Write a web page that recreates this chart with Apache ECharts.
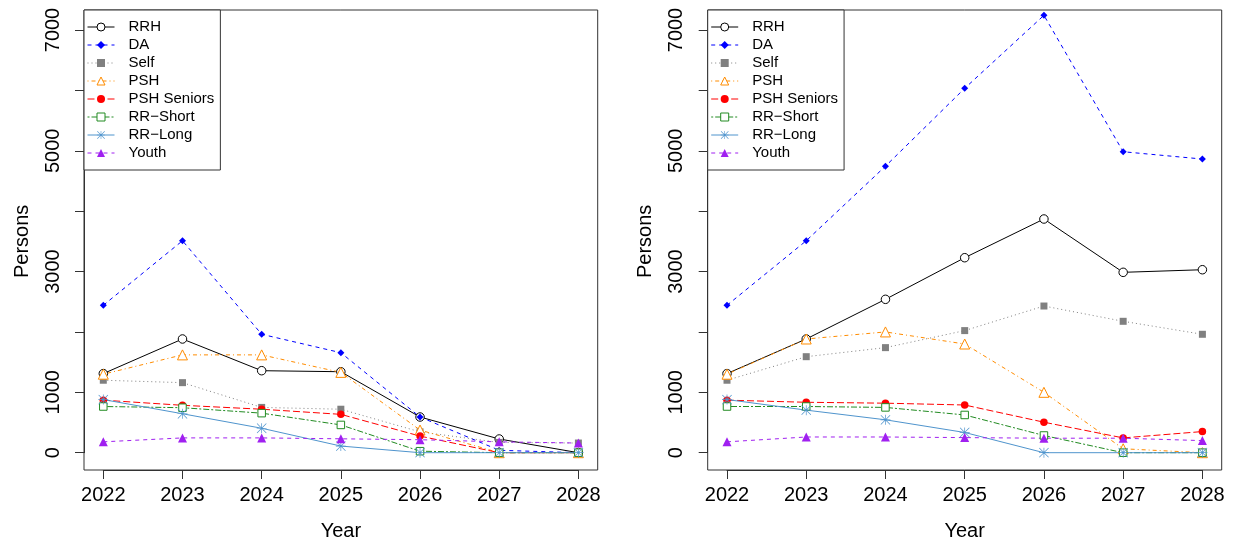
<!DOCTYPE html>
<html>
<head>
<meta charset="utf-8">
<script src="https://cdn.jsdelivr.net/npm/echarts@6/dist/echarts.min.js"></script>
<style>
  html, body { margin: 0; padding: 0; background: #fff; }
  #chart { width: 1234px; height: 543px; }
</style>
</head>
<body>
<div id="chart"></div>
<script>
// ---------- data ----------
const years = [2022, 2023, 2024, 2025, 2026, 2027, 2028];
const yTickLabels = [0, 1000, 3000, 5000, 7000];
const seriesNames = ['RRH', 'DA', 'Self', 'PSH', 'PSH Seniors', 'RR\u2212Short', 'RR\u2212Long', 'Youth'];

// left panel
const rrhLeft        = [1310, 1883, 1358, 1341, 591, 227, 0];
const daLeft         = [2441, 3510, 1961, 1656, 591, 40, 0];
const selfLeft       = [1200, 1160, 750, 720, 345, 170, 160];
const pshLeft        = [1300, 1620, 1620, 1330, 375, 0, 0];
const pshSeniorsLeft = [870, 785, 720, 635, 275, 0, 0];
const rrShortLeft    = [765, 745, 655, 460, 25, 0, 0];
const rrLongLeft     = [880, 645, 405, 110, 0, 0, 0];
const youthLeft      = [180, 245, 245, 230, 215, 180, 160];

// right panel
const rrhRight        = [1310, 1883, 2540, 3229, 3870, 2987, 3030];
const daRight         = [2441, 3510, 4745, 6034, 7243, 4984, 4863];
const selfRight       = [1200, 1590, 1740, 2022, 2429, 2176, 1961];
const pshRight        = [1300, 1883, 2000, 1800, 1000, 65, 0];
const pshSeniorsRight = [870, 835, 820, 790, 505, 245, 350];
const rrShortRight    = [765, 765, 750, 625, 285, 0, 0];
const rrLongRight     = [880, 705, 545, 335, 0, 0, 0];
const youthRight      = [180, 260, 260, 250, 240, 240, 200];

const panels = [
  [rrhLeft, daLeft, selfLeft, pshLeft, pshSeniorsLeft, rrShortLeft, rrLongLeft, youthLeft],
  [rrhRight, daRight, selfRight, pshRight, pshSeniorsRight, rrShortRight, rrLongRight, youthRight]
];

// ---------- styles ----------
const FONT = '"Liberation Sans", Arial, Helvetica, sans-serif';
const asterisk = 'path://M9.3 0h1.4v20h-1.4z M0 9.3h20v1.4h-20z M1.2 0.2L19.8 18.8L18.8 19.8L0.2 1.2Z M18.8 0.2L19.8 1.2L1.2 19.8L0.2 18.8Z';
// open = white-filled symbol with thin coloured outline
const styles = [
  { color: '#000000', dash: 'solid',       symbol: 'circle',   size: 8.5, open: true },
  { color: '#0000FF', dash: [4, 4],        symbol: 'diamond',  size: 7,   open: false },
  { color: '#808080', dash: [1, 3],        symbol: 'rect',     size: 7,   open: false },
  { color: '#FF8C00', dash: [1, 3, 4, 3],  symbol: 'triangle', size: 10,  open: true },
  { color: '#FF0000', dash: [7, 3],        symbol: 'circle',   size: 7.5, open: false },
  { color: '#228B22', dash: [2, 2, 6, 2],  symbol: 'rect',     size: 7.5, open: true },
  { color: '#4F94CD', dash: 'solid',       symbol: asterisk,   size: 10,  open: false },
  { color: '#A020F0', dash: [4, 4],        symbol: 'triangle', size: 9,   open: false }
];

// ---------- layout (pixels) ----------
const boxes = [
  { x: 84, y: 10, w: 513.7, h: 460 },
  { x: 707.7, y: 10, w: 514, h: 460 }
];
const PAD_X = 19.3;   // R's 4% axis extension, horizontally
const Y0 = 452.7;     // pixel of value 0
const Y7000 = 30;     // pixel of value 7000

const grids = boxes.map(b => ({
  left: b.x + PAD_X,
  width: b.w - 2 * PAD_X,
  top: Y7000,
  height: Y0 - Y7000,
  containLabel: false,
  outerBoundsMode: 'none'
}));

const axisLineStyle = { color: '#333', width: 1 };

const xAxes = boxes.map((b, p) => ({
  type: 'value', gridIndex: p, min: 2022, max: 2028, interval: 1,
  offset: (b.y + b.h) - Y0,
  axisLine: { show: true, onZero: false, lineStyle: axisLineStyle },
  axisTick: { show: true, length: 9, lineStyle: axisLineStyle },
  axisLabel: { show: true, fontSize: 20, color: '#000', fontFamily: FONT, margin: 15,
               formatter: v => String(v) },
  splitLine: { show: false },
  name: 'Year', nameLocation: 'middle', nameGap: 51,
  nameTextStyle: { fontSize: 20, color: '#000', fontFamily: FONT }
}));

const yAxes = boxes.map((b, p) => ({
  type: 'value', gridIndex: p, min: 0, max: 7000, interval: 1000,
  offset: PAD_X,
  axisLine: { show: true, onZero: false, lineStyle: axisLineStyle },
  axisTick: { show: true, length: 9, lineStyle: axisLineStyle },
  axisLabel: {
    show: true, rotate: 90, fontSize: 20, color: '#000', fontFamily: FONT, margin: 21,
    formatter: v => (yTickLabels.indexOf(v) >= 0 ? String(v) : '')
  },
  splitLine: { show: false },
  name: 'Persons', nameLocation: 'middle', nameGap: 52,
  nameTextStyle: { fontSize: 20, color: '#000', fontFamily: FONT }
}));

const series = [];
panels.forEach((vals, p) => {
  vals.forEach((arr, i) => {
    const s = styles[i];
    series.push({
      type: 'line',
      name: seriesNames[i],
      xAxisIndex: p, yAxisIndex: p,
      data: years.map((yr, j) => [yr, arr[j]]),
      symbol: s.symbol,
      symbolSize: s.size,
      showAllSymbol: true,
      clip: false,
      silent: true,
      lineStyle: { color: s.color, width: 1, type: s.dash },
      itemStyle: s.open
        ? { color: '#fff', borderColor: s.color, borderWidth: 1 }
        : { color: s.color, borderWidth: 0 },
      emphasis: { disabled: true }
    });
  });
});

const legends = boxes.map(b => ({
  data: seriesNames,
  orient: 'vertical',
  left: b.x, top: b.y,
  padding: [8, 6, 8, 3],
  itemWidth: 27, itemHeight: 10, itemGap: 0,
  borderColor: '#333', borderWidth: 1, backgroundColor: '#fff',
  selectedMode: false,
  lineStyle: { width: 1 },
  itemStyle: { borderWidth: 1 },
  textStyle: { fontSize: 15, color: '#000', fontFamily: FONT, lineHeight: 18, padding: [0, 0, 0, 9] }
}));

const graphic = boxes.map(b => ({
  type: 'rect', silent: true, z: 1,
  shape: { x: b.x, y: b.y, width: b.w, height: b.h },
  style: { fill: null, stroke: '#333', lineWidth: 1 }
}));

const chart = echarts.init(document.getElementById('chart'), null, { renderer: 'canvas' });
chart.setOption({
  animation: false,
  backgroundColor: '#fff',
  textStyle: { fontFamily: FONT },
  grid: grids,
  xAxis: xAxes,
  yAxis: yAxes,
  legend: legends,
  graphic: graphic,
  series: series
});
</script>
</body>
</html>
